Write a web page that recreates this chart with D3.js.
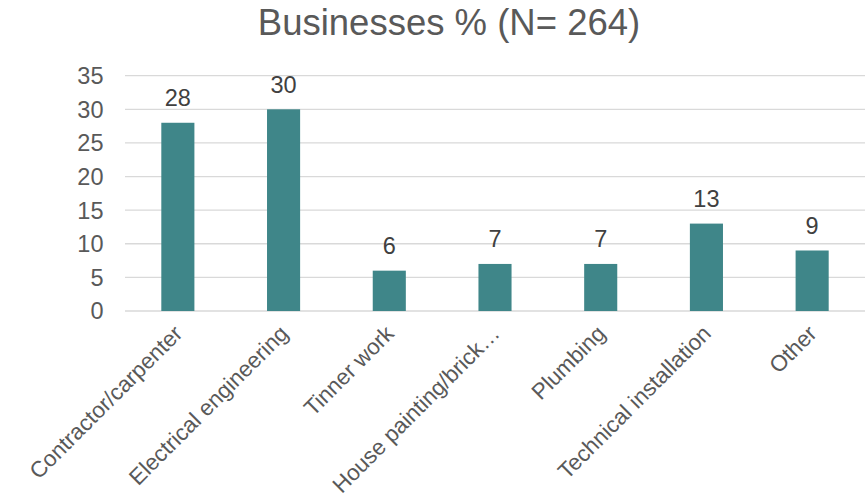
<!DOCTYPE html>
<html>
<head>
<meta charset="utf-8">
<script src="https://cdn.jsdelivr.net/npm/d3@7"></script>
<style>
  body { margin: 0; background: #fff; }
  svg { display: block; font-family: 'Liberation Sans', Arial, sans-serif; }
</style>
</head>
<body>
<div id="chart"></div>
<script>
const categories = ['Contractor/carpenter', 'Electrical engineering', 'Tinner work', 'House painting/brick…', 'Plumbing', 'Technical installation', 'Other']
const values = [28, 30, 6, 7, 7, 13, 9]
const yTicks = [0, 5, 10, 15, 20, 25, 30, 35]
const title = 'Businesses % (N= 264)'

const width = 868
const height = 502
const teal = '#3F8689'
const textGray = '#595959'

const svg = d3.select('#chart').append('svg')
  .attr('width', width)
  .attr('height', height)

const x = d3.scaleBand().domain(categories).range([125, 865]).paddingInner(0.687).paddingOuter(0.3435)
const y = d3.scaleLinear().domain([0, 35]).range([311, 75.7])

svg.append('text')
  .attr('x', 449)
  .attr('y', 35)
  .attr('text-anchor', 'middle')
  .attr('fill', textGray)
  .style('font-size', '36.5px')
  .text(title)

// gridlines
svg.append('g')
  .selectAll('line')
  .data(yTicks)
  .join('line')
  .attr('x1', 125)
  .attr('x2', 865)
  .attr('y1', d => y(d))
  .attr('y2', d => y(d))
  .attr('stroke', '#D9D9D9')
  .attr('stroke-width', 1.3)

// y tick labels
svg.append('g')
  .selectAll('text')
  .data(yTicks)
  .join('text')
  .attr('x', 103.5)
  .attr('y', d => y(d))
  .attr('dy', '0.36em')
  .attr('text-anchor', 'end')
  .attr('fill', textGray)
  .style('font-size', '23.5px')
  .text(d => d)

svg.append('g')
  .selectAll('rect')
  .data(values)
  .join('rect')
  .attr('x', (d, i) => x(categories[i]))
  .attr('width', x.bandwidth())
  .attr('y', d => y(d))
  .attr('height', d => y(0) - y(d))
  .attr('fill', teal)

svg.append('g')
  .selectAll('text')
  .data(values)
  .join('text')
  .attr('x', (d, i) => x(categories[i]) + x.bandwidth() / 2)
  .attr('y', d => y(d) - 16.5)
  .attr('text-anchor', 'middle')
  .attr('fill', '#404040')
  .style('font-size', '23.5px')
  .text(d => d)

svg.append('g')
  .selectAll('text')
  .data(categories)
  .join('text')
  .attr('transform', d => `translate(${x(d) + x.bandwidth() / 2 + 6} 335) rotate(-45)`)
  .attr('text-anchor', 'end')
  .attr('fill', textGray)
  .style('font-size', '22.4px')
  .text(d => d)
</script>
</body>
</html>
